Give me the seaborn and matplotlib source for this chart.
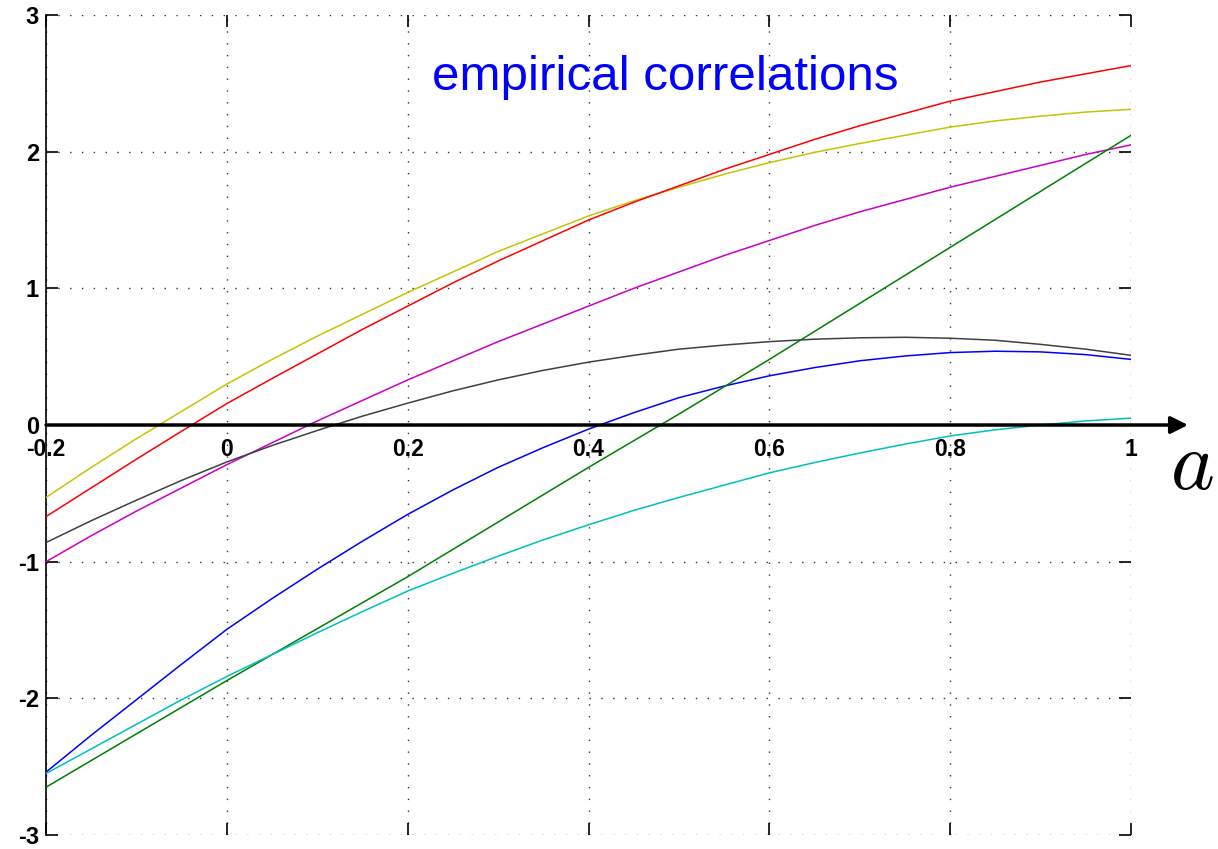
import matplotlib
matplotlib.use("Agg")
import matplotlib.pyplot as plt
import seaborn as sns
import pandas as pd

# Sample points along the a-axis
a_vals = [-0.2, -0.15, -0.1, -0.05, 0.0, 0.05, 0.1, 0.15, 0.2, 0.25, 0.3, 0.35, 0.4,
          0.45, 0.5, 0.55, 0.6, 0.65, 0.7, 0.75, 0.8, 0.85, 0.9, 0.95, 1.0]

# One curve per correlation
yellow_curve = [-0.53, -0.31, -0.10, 0.10, 0.30, 0.48, 0.65, 0.81, 0.97, 1.12, 1.27, 1.40, 1.53,
                1.64, 1.74, 1.835, 1.92, 1.995, 2.06, 2.12, 2.18, 2.225, 2.26, 2.29, 2.31]
red_curve = [-0.67, -0.46, -0.25, -0.045, 0.157, 0.34, 0.52, 0.70, 0.87, 1.04, 1.20, 1.35, 1.50,
             1.63, 1.75, 1.87, 1.98, 2.09, 2.19, 2.28, 2.37, 2.44, 2.51, 2.57, 2.63]
magenta_curve = [-1.00, -0.81, -0.63, -0.46, -0.29, -0.13, 0.03, 0.18, 0.33, 0.47, 0.61, 0.74, 0.87,
                 1.00, 1.12, 1.24, 1.35, 1.46, 1.56, 1.65, 1.74, 1.82, 1.90, 1.98, 2.05]
gray_curve = [-0.86, -0.70, -0.55, -0.405, -0.27, -0.15, -0.04, 0.065, 0.16, 0.25, 0.33, 0.40, 0.46,
              0.51, 0.555, 0.585, 0.61, 0.628, 0.638, 0.642, 0.635, 0.62, 0.59, 0.555, 0.51]
blue_curve = [-2.54, -2.27, -2.01, -1.75, -1.495, -1.27, -1.055, -0.85, -0.654, -0.475, -0.31, -0.165, -0.03,
              0.09, 0.20, 0.285, 0.36, 0.42, 0.47, 0.505, 0.53, 0.54, 0.535, 0.515, 0.48]
green_curve = [-2.65, -2.455, -2.26, -2.065, -1.87, -1.68, -1.49, -1.30, -1.11, -0.91, -0.71, -0.51, -0.31,
               -0.115, 0.08, 0.28, 0.48, 0.685, 0.89, 1.095, 1.30, 1.505, 1.71, 1.915, 2.12]
cyan_curve = [-2.55, -2.37, -2.19, -2.01, -1.84, -1.68, -1.52, -1.365, -1.215, -1.085, -0.96, -0.84, -0.73,
              -0.625, -0.53, -0.44, -0.35, -0.275, -0.205, -0.14, -0.08, -0.035, 0.0, 0.03, 0.05]

curve_names = ["yellow", "red", "magenta", "gray", "blue", "green", "cyan"]
curve_colors = ["#c4c400", "#ff0000", "#c800c8", "#404040", "#0000ff", "#008000", "#00bfbf"]

x_ticks = [-0.2, 0, 0.2, 0.4, 0.6, 0.8, 1]
x_tick_labels = ["-0.2", "0", "0.2", "0.4", "0.6", "0.8", "1"]
y_ticks = [-3, -2, -1, 0, 1, 2, 3]
y_tick_labels = ["-3", "-2", "-1", "0", "1", "2", "3"]

title_text = "empirical correlations"
axis_name = "$a$"

rows = []
for name, ys in zip(curve_names, [yellow_curve, red_curve, magenta_curve, gray_curve,
                                  blue_curve, green_curve, cyan_curve]):
    for x, y in zip(a_vals, ys):
        rows.append({"a": x, "value": y, "curve": name})
df = pd.DataFrame(rows)

sns.set_style("white")
plt.rcParams["font.family"] = ["Liberation Sans", "DejaVu Sans"]
plt.rcParams["mathtext.fontset"] = "cm"
plt.rcParams["text.color"] = "black"
plt.rcParams["xtick.color"] = "black"
plt.rcParams["ytick.color"] = "black"

fig = plt.figure(figsize=(12.18, 8.49), dpi=100)
ax = fig.add_axes([0.0378, 0.0165, 0.8908, 0.9658])

sns.lineplot(data=df, x="a", y="value", hue="curve", hue_order=curve_names,
             palette=dict(zip(curve_names, curve_colors)), linewidth=1.1,
             legend=False, ax=ax, zorder=3)

ax.set_xlim(-0.2, 1)
ax.set_ylim(-3, 3)
ax.set_xlabel("")
ax.set_ylabel("")

for side in ["top", "right", "bottom"]:
    ax.spines[side].set_visible(False)
ax.spines["left"].set_color("black")
ax.spines["left"].set_linewidth(1.2)

ax.set_xticks(x_ticks)
ax.set_yticks(y_ticks)
ax.set_yticklabels(y_tick_labels, fontsize=17, fontweight="bold", color="black")
ax.tick_params(axis="x", direction="in", top=True, bottom=True, labelbottom=False,
               length=8.5, width=1.2, color="black")
ax.tick_params(axis="y", direction="in", left=True, right=True, length=8.5,
               width=1.2, color="black", pad=5)

ax.grid(True, color="#333333", linestyle=(0, (1, 7.5)), linewidth=1.0)

# Tick labels for the a-axis sit under the horizontal zero line
sec = ax.secondary_xaxis(0.5)
sec.set_alignment("bottom")
sec.set_xticks(x_ticks)
sec.set_xticklabels(x_tick_labels, fontsize=16.5, fontweight="bold", color="black")
sec.tick_params(axis="x", length=0, pad=9)
for sp in sec.spines.values():
    sp.set_visible(False)

# Horizontal axis arrow through zero
ax.annotate("", xy=(1.063, 0), xytext=(-0.2, 0), xycoords="data",
            arrowprops=dict(arrowstyle="-|>", lw=2.5, color="black",
                            mutation_scale=26, shrinkA=0, shrinkB=0),
            annotation_clip=False, zorder=5)

ax.text(1.043, -0.47, axis_name, fontsize=60, color="black", ha="left", va="baseline",
        clip_on=False)

ax.text(0.227, 2.45, title_text, fontsize=35.5, color="#0000ff", ha="left",
        va="baseline")

fig.savefig("out.png", dpi=100)
